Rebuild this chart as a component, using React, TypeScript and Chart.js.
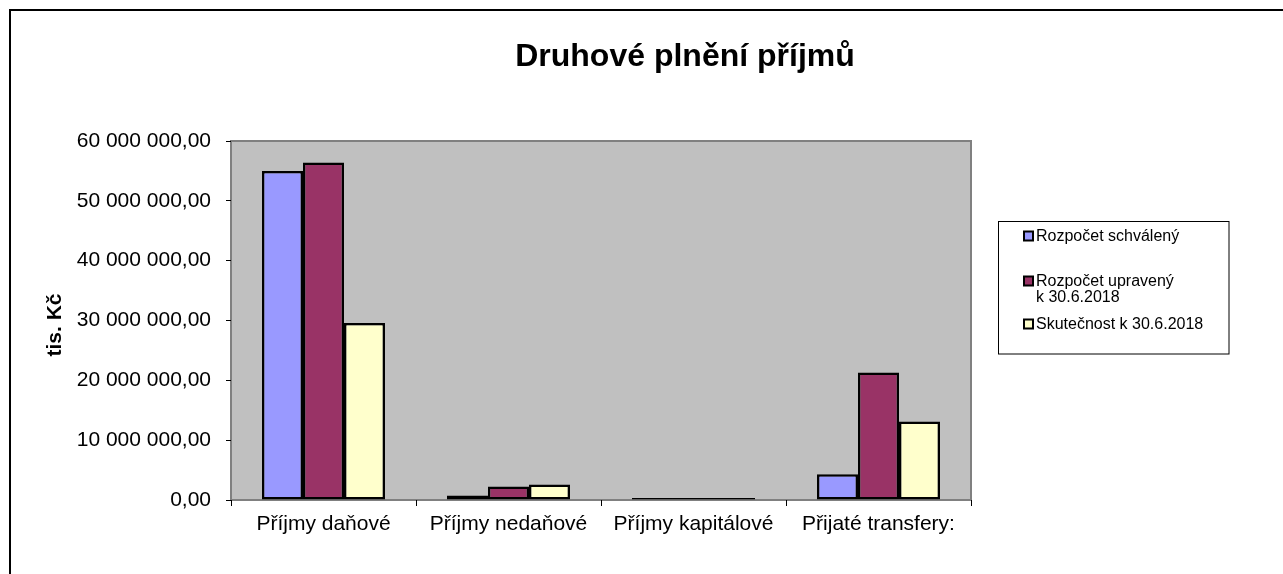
import React, { useEffect, useRef } from "react";
import { Chart, registerables } from "chart.js";

Chart.register(...registerables);

const categories = ["Příjmy daňové", "Příjmy nedaňové", "Příjmy kapitálové", "Přijaté transfery:"];
const seriesLabels = ["Rozpočet schválený", "Rozpočet upravený k 30.6.2018", "Skutečnost k 30.6.2018"];
const legendLines = [["Rozpočet schválený"], ["Rozpočet upravený", "k 30.6.2018"], ["Skutečnost k 30.6.2018"]];
const schvaleny = [55000000, 750000, 60000, 4300000];
const upraveny = [56400000, 2250000, 60000, 21300000];
const skutecnost = [29600000, 2600000, 60000, 13100000];
const seriesColors = ["#9999FF", "#993366", "#FFFFCC"];
const yMin = 0;
const yMax = 60000000;
const yStep = 10000000;
const chartTitle = "Druhové plnění příjmů";
const yTitle = "tis. Kč";

const FONT = "'Liberation Sans', Arial, sans-serif";

function formatNum(v: number): string {
  const s = Math.round(v).toString();
  const parts: string[] = [];
  for (let i = s.length; i > 0; i -= 3) {
    parts.unshift(s.substring(Math.max(0, i - 3), i));
  }
  return parts.join(" ") + ",00";
}

const decorPlugin = {
  id: "decor",
  beforeDraw(chart: any) {
    const { ctx, chartArea } = chart;
    ctx.save();
    ctx.fillStyle = "#ffffff";
    ctx.fillRect(0, 0, chart.width, chart.height);
    ctx.strokeStyle = "#000";
    ctx.lineWidth = 2;
    ctx.strokeRect(10, 10, chart.width + 20, chart.height + 20);
    ctx.fillStyle = "#C0C0C0";
    ctx.fillRect(chartArea.left, chartArea.top, chartArea.right - chartArea.left, chartArea.bottom - chartArea.top);
    ctx.strokeStyle = "#808080";
    ctx.lineWidth = 2;
    ctx.strokeRect(chartArea.left, chartArea.top, chartArea.right - chartArea.left, chartArea.bottom - chartArea.top);
    ctx.restore();
  },
  afterDraw(chart: any) {
    const { ctx } = chart;
    ctx.save();
    ctx.fillStyle = "#000";
    ctx.font = `bold 32px ${FONT}`;
    ctx.textAlign = "center";
    ctx.textBaseline = "alphabetic";
    ctx.fillText(chartTitle, 685, 66);
    ctx.save();
    ctx.translate(55, 325);
    ctx.rotate(-Math.PI / 2);
    ctx.font = `bold 21px ${FONT}`;
    ctx.textAlign = "center";
    ctx.textBaseline = "middle";
    ctx.fillText(yTitle, 0, 0);
    ctx.restore();
    ctx.strokeStyle = "#000";
    ctx.lineWidth = 1;
    ctx.strokeRect(998.5, 221.5, 230.5, 132.5);
    const ys = [236, 281, 324];
    ctx.font = `16px ${FONT}`;
    ctx.textAlign = "left";
    ctx.textBaseline = "middle";
    chart.data.datasets.forEach((ds: any, i: number) => {
      const y = ys[i];
      ctx.fillStyle = ds.backgroundColor;
      ctx.fillRect(1024, y - 4.5, 9, 9);
      ctx.strokeStyle = "#000";
      ctx.lineWidth = 2;
      ctx.strokeRect(1024, y - 4.5, 9, 9);
      ctx.fillStyle = "#000";
      legendLines[i].forEach((line, j) => {
        ctx.fillText(line, 1036, y + 1 + j * 16);
      });
    });
    ctx.restore();
  },
};

export default function App() {
  const ref = useRef<HTMLCanvasElement>(null);
  useEffect(() => {
    if (!ref.current) return;
    const data = [schvaleny, upraveny, skutecnost];
    const chart = new Chart(ref.current, {
      type: "bar",
      data: {
        labels: categories,
        datasets: seriesLabels.map((label, i) => ({
          label,
          data: data[i],
          backgroundColor: seriesColors[i],
          borderColor: "#000",
          borderWidth: 2.5,
          borderSkipped: false,
          categoryPercentage: 0.665,
          barPercentage: 1.0,
          minBarLength: 2,
        })),
      },
      options: {
        responsive: false,
        animation: false,
        layout: { padding: { left: 0, top: 141, right: 312, bottom: 34 } },
        plugins: {
          legend: { display: false },
          title: { display: false },
          tooltip: { enabled: false },
        },
        scales: {
          x: {
            grid: {
              offset: true,
              drawOnChartArea: false,
              drawTicks: true,
              tickLength: 6,
              color: "#000",
              lineWidth: 1,
            },
            border: { display: false },
            ticks: {
              color: "#000",
              font: { family: FONT, size: 21 },
              padding: 6,
              maxRotation: 0,
              autoSkip: false,
            },
            afterFit(scale: any) {
              scale.height = 40;
            },
          },
          y: {
            min: yMin,
            max: yMax,
            grid: {
              drawOnChartArea: false,
              drawTicks: true,
              tickLength: 5,
              color: "#000",
              lineWidth: 1,
            },
            border: { display: false },
            ticks: {
              stepSize: yStep,
              color: "#000",
              font: { family: FONT, size: 21 },
              padding: 15,
              callback: (v: any) => formatNum(Number(v)),
            },
            afterFit(scale: any) {
              scale.width = 231;
            },
          },
        },
      },
      plugins: [decorPlugin],
    });
    return () => chart.destroy();
  }, []);
  return (
    <div style={{ position: "absolute", left: 0, top: 0, width: 1283, height: 574 }}>
      <canvas ref={ref} width={1283} height={574} style={{ display: "block" }} />
    </div>
  );
}
